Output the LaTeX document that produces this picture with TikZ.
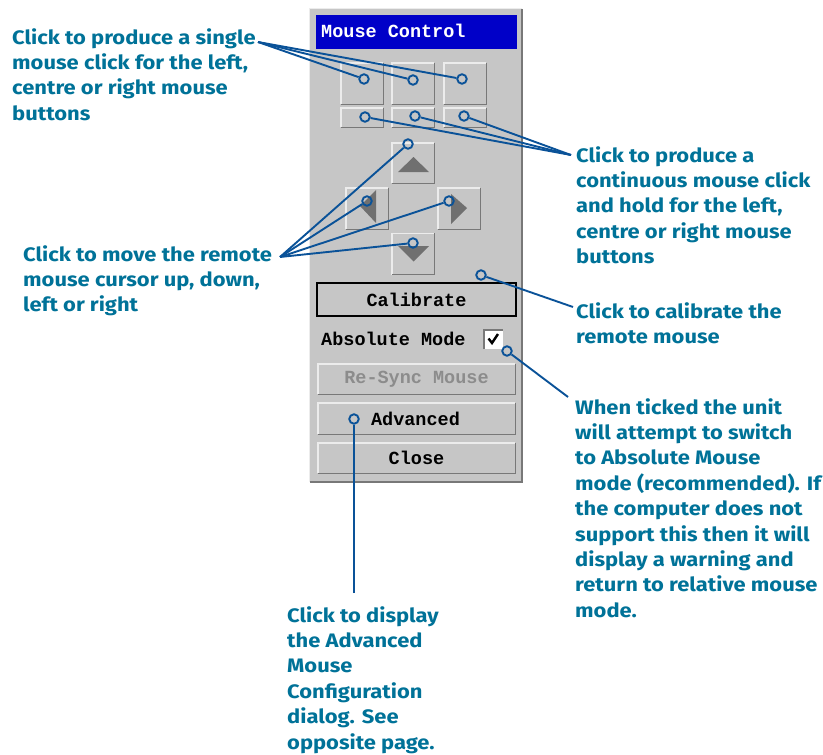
\documentclass[tikz,border=0pt]{standalone}
\usepackage{fontspec}
\setmainfont{Fira Sans}
\newfontfamily\calloutfont{Fira Sans}[FakeStretch=1.125]
\newfontfamily\panelfont{Liberation Mono}
\definecolor{txtblue}{RGB}{0,114,152}
\definecolor{lineblue}{RGB}{10,82,152}
\definecolor{panelgray}{RGB}{198,198,198}
\definecolor{titleblue}{RGB}{0,0,200}
\definecolor{arrowgray}{RGB}{112,112,112}
\definecolor{bevlight}{RGB}{236,236,236}
\definecolor{bevdark}{RGB}{120,120,120}
\definecolor{distext}{RGB}{140,140,140}
\newcommand\bevel[1]{%
  \draw[bevlight,line width=1.4pt] (#1.south west) -- (#1.north west) -- (#1.north east);
  \draw[bevdark,line width=1.4pt] (#1.north east) -- (#1.south east) -- (#1.south west);}
\tikzset{
  btn/.style 2 args={fill=panelgray, inner sep=0pt, minimum width=#1, minimum height=#2, font=\panelfont\fontsize{18.5}{20}\selectfont\bfseries},
  dot/.style={circle, draw=lineblue, line width=1.9pt, minimum size=9.5pt, inner sep=0pt},
  conn/.style={draw=lineblue, line width=1.9pt},
  callout/.style={anchor=base west, align=left, inner sep=0pt, text=txtblue,
    font=\calloutfont\fontsize{19.5}{25.4}\selectfont\bfseries},
  arrowtri/.style={fill=arrowgray}
}
\begin{document}
\begin{tikzpicture}[x=1pt,y=-1pt]
\useasboundingbox (0,0) rectangle (823,755);
% panel
\node[fill=panelgray, inner sep=0pt, minimum width=212pt, minimum height=473pt] (panel) at (416,245.5) {};
\draw[bevlight,line width=1.2pt] (panel.south west) -- (panel.north west) -- (panel.north east);
\draw[bevdark,line width=1.6pt] (panel.north east) -- (panel.south east) -- (panel.south west);
% title
\node[fill=titleblue, inner sep=0pt, minimum width=201pt, minimum height=34pt] (title) at (416.5,32) {};
\node[anchor=base west, inner sep=0pt, text=white, font=\panelfont\fontsize{18.5}{20}\selectfont\bfseries] (titletext) at (321,37) {Mouse Control};
% click buttons
\node[btn={42pt}{41pt}] (b1) at (362,83.5) {}; \bevel{b1}
\node[btn={42pt}{41pt}] (b2) at (413,83.5) {}; \bevel{b2}
\node[btn={42pt}{41pt}] (b3) at (465,83.5) {}; \bevel{b3}
\node[btn={42pt}{19pt}] (s1) at (362,117.5) {}; \bevel{s1}
\node[btn={42pt}{19pt}] (s2) at (413,117.5) {}; \bevel{s2}
\node[btn={42pt}{19pt}] (s3) at (465,117.5) {}; \bevel{s3}
% arrow buttons
\node[btn={42pt}{40pt}] (up) at (413,163) {}; \bevel{up}
\node[btn={42pt}{41pt}] (lt) at (367,208.5) {}; \bevel{lt}
\node[btn={42pt}{41pt}] (rt) at (459,208.5) {}; \bevel{rt}
\node[btn={42pt}{41pt}] (dn) at (413,254) {}; \bevel{dn}
\fill[arrowtri] (398,172) -- (429,172) -- (413.5,157) -- cycle;
\fill[arrowtri] (376,190) -- (376,223) -- (360,206) -- cycle;
\fill[arrowtri] (451,194) -- (451,224) -- (467,208) -- cycle;
\fill[arrowtri] (398,246) -- (429,246) -- (413.5,261.5) -- cycle;
% calibrate
\node[btn={199pt}{33pt}] (cal) at (416.5,299.5) {Calibrate};
\draw[black,line width=1.6pt] (cal.south west) rectangle (cal.north east);
% absolute mode
\node[anchor=base west, inner sep=0pt, font=\panelfont\fontsize{18.5}{20}\selectfont\bfseries] (abs) at (321,345) {Absolute Mode};
\node[fill=white, inner sep=0pt, minimum width=19pt, minimum height=19pt] (chk) at (493.5,339.5) {};
\draw[bevdark,line width=1.4pt] (chk.south west) -- (chk.north west) -- (chk.north east);
\draw[black,line width=2.4pt] (488.5,338.5) -- (492,343) -- (498,334);
% other buttons
\node[btn={197pt}{30pt}, text=distext] (rsy) at (416.5,379) {Re-Sync Mouse}; \bevel{rsy}
\node[btn={197pt}{31pt}] (adv) at (416.5,418.5) {\hspace*{-2pt}Advanced}; \bevel{adv}
\node[btn={197pt}{30pt}] (cls) at (416.5,458) {Close}; \bevel{cls}
% dots
\node[dot] (d1) at (364,79) {};
\node[dot] (d2) at (413,80) {};
\node[dot] (d3) at (462,79) {};
\node[dot] (e1) at (365,117) {};
\node[dot] (e2) at (415,116) {};
\node[dot] (e3) at (464,116) {};
\node[dot] (f1) at (408,144) {};
\node[dot] (f2) at (367,201) {};
\node[dot] (f3) at (449,201) {};
\node[dot] (f4) at (413,243) {};
\node[dot] (g1) at (481,275) {};
\node[dot] (h1) at (507,351) {};
\node[dot] (k1) at (354,419) {};
% connector ends
\coordinate (c1) at (258,42);
\coordinate (c2) at (571,155);
\coordinate (c6) at (280,257);
\coordinate (c3) at (573,307);
\coordinate (c4) at (568,397);
\coordinate (c5) at (354,593);
\draw[conn] (c1) -- (d1); \draw[conn] (c1) -- (d2); \draw[conn] (c1) -- (d3);
\draw[conn] (c2) -- (e1); \draw[conn] (c2) -- (e2); \draw[conn] (c2) -- (e3);
\draw[conn] (c6) -- (f1); \draw[conn] (c6) -- (f2); \draw[conn] (c6) -- (f3); \draw[conn] (c6) -- (f4);
\draw[conn] (c3) -- (g1);
\draw[conn] (c4) -- (h1);
\draw[conn] (c5) -- (k1);
% callout texts (anchor = baseline of last line)
\node[callout] (t1) at (12,120.2) {Click to produce a single\\mouse click for the left,\\centre or right mouse\\buttons};
\node[callout] (t2) at (576,263.6) {Click to produce a\\continuous mouse click\\and hold for the left,\\centre or right mouse\\buttons};
\node[callout] (t6) at (23,311.8) {Click to move the remote\\mouse cursor up, down,\\left or right};
\node[callout] (t3) at (576,343.4) {Click to calibrate the\\remote mouse};
\node[callout] (t4) at (575,617.2) {When ticked the unit\\will attempt to switch\\to Absolute Mouse\\mode (recommended). If\\the computer does not\\support this then it will\\display a warning and\\return to relative mouse\\mode.};
\node[callout] (t5) at (287,749) {Click to display\\the Advanced\\Mouse\\Configuration\\dialog. See\\opposite page.};
\end{tikzpicture}
\end{document}
